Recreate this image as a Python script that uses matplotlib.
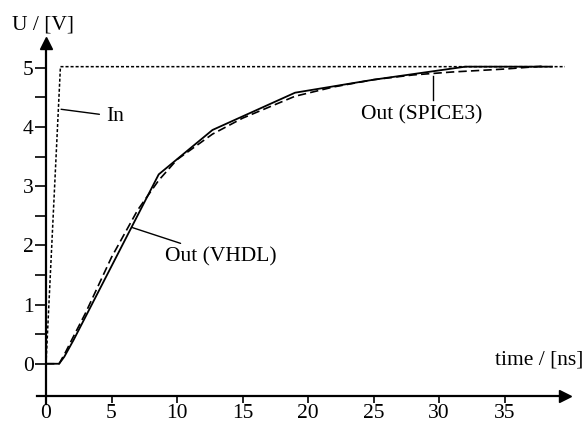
import numpy as np
import matplotlib.pyplot as plt

plt.rcParams['font.family'] = ['Liberation Serif', 'DejaVu Serif']

# input step
t_in = [0.0, 1.1, 39.6]
u_in = [0.0, 5.02, 5.02]

# VHDL model output (piecewise linear)
t_vhdl = [0.0, 1.0, 1.4, 2.1, 8.6, 12.7, 19.0, 25.0, 32.0, 38.6]
u_vhdl = [0.0, 0.0, 0.12, 0.4, 3.2, 3.95, 4.58, 4.8, 5.02, 5.02]

# SPICE3 simulation output
t_spice = [0.0, 1.0, 1.5, 2.0, 3.0, 5.0, 7.0, 8.6, 10.0, 12.7, 15.0, 19.0, 22.0, 25.0, 28.0, 31.0, 35.0, 38.0]
u_spice = [0.0, 0.0, 0.2, 0.42, 0.85, 1.8, 2.6, 3.1, 3.45, 3.88, 4.15, 4.52, 4.68, 4.8, 4.88, 4.93, 4.98, 5.03]

fig = plt.figure(figsize=(5.85, 4.24), dpi=100)
ax = fig.add_axes([0.0632, 0.0472, 0.9026, 0.8514])
ax.set_xlim(-0.69, 39.6)
ax.set_ylim(-0.68, 5.42)

ax.plot(t_in, u_in, color='black', lw=1.1, ls=(0, (2, 1.3)))
ax.plot(t_vhdl, u_vhdl, color='black', lw=1.3)
ax.plot(t_spice, u_spice, color='black', lw=1.2, ls=(0, (5, 2.5)))

# axes with arrows
for s in ['top', 'right']:
    ax.spines[s].set_visible(False)
ax.spines['left'].set_position(('data', 0))
ax.spines['bottom'].set_position(('data', -0.54))
ax.spines['left'].set_linewidth(1.6)
ax.spines['bottom'].set_linewidth(1.6)
ax.plot(1, -0.54, '>k', ms=9, transform=ax.get_yaxis_transform(), clip_on=False)
ax.plot(0, 1, '^k', ms=9, transform=ax.get_xaxis_transform(), clip_on=False)

ax.set_xticks([0, 5, 10, 15, 20, 25, 30, 35])
ax.set_yticks([0, 1, 2, 3, 4, 5])
ax.set_yticks(np.arange(0.5, 5, 1), minor=True)
ax.tick_params(axis='x', direction='out', length=5, width=1.2, labelsize=15.5, pad=1)
ax.tick_params(axis='y', which='both', direction='out', length=8, width=1.2, labelsize=15.5, pad=1)

ax.text(-0.047, 1.05, 'U / [V]', transform=ax.transAxes, fontsize=15.5, ha='left', va='center')
ax.text(1.034, 0.123, 'time / [ns]', transform=ax.transAxes, fontsize=15.5, ha='right', va='center')

# labels with leader lines
ax.annotate('In', xy=(1.15, 4.3), xytext=(4.6, 4.18), fontsize=15.5, va='center',
            arrowprops=dict(arrowstyle='-', color='black', lw=1, shrinkA=3, shrinkB=0))
ax.annotate('Out (VHDL)', xy=(6.6, 2.3), xytext=(9.1, 1.81), fontsize=15.5, va='center',
            arrowprops=dict(arrowstyle='-', color='black', lw=1, shrinkA=2, shrinkB=0))
ax.text(28.7, 4.2, 'Out (SPICE3)', fontsize=15.5, ha='center', va='center')
ax.plot([29.5, 29.5], [4.45, 4.87], color='black', lw=1)

fig.savefig('out.png', dpi=100)
